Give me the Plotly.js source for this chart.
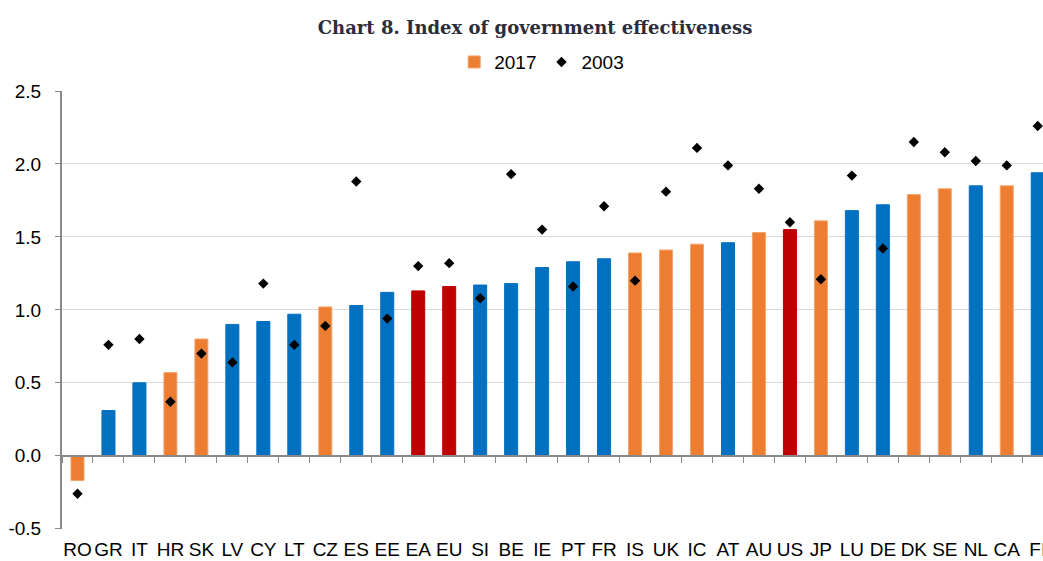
<!DOCTYPE html>
<html>
<head>
<meta charset="utf-8">
<script src="https://cdn.plot.ly/plotly-3.0.1.min.js"></script>
<style>html,body{margin:0;padding:0;background:#fff;}#chart{width:1043px;height:561px;}</style>
</head>
<body>
<div id="chart"></div>
<script>
// Data
const categories = ['RO','GR','IT','HR','SK','LV','CY','LT','CZ','ES','EE','EA','EU','SI','BE','IE','PT','FR','IS','UK','IC','AT','AU','US','JP','LU','DE','DK','SE','NL','CA','FI'];
const values2017 = [-0.17,0.31,0.50,0.57,0.80,0.90,0.92,0.97,1.02,1.03,1.12,1.13,1.16,1.17,1.18,1.29,1.33,1.35,1.39,1.41,1.45,1.46,1.53,1.55,1.61,1.68,1.72,1.79,1.83,1.85,1.85,1.94];
const values2003 = [-0.26,0.76,0.80,0.37,0.70,0.64,1.18,0.76,0.89,1.88,0.94,1.30,1.32,1.08,1.93,1.55,1.16,1.71,1.20,1.81,2.11,1.99,1.83,1.60,1.21,1.92,1.42,2.15,2.08,2.02,1.99,2.26];
// group of each economy: 'eu' member, 'other' economy, 'agg' aggregate
const groups = ['other','eu','eu','other','other','eu','eu','eu','other','eu','eu','agg','agg','eu','eu','eu','eu','eu','other','other','other','eu','other','agg','other','eu','eu','other','other','eu','other','eu'];
const yTicks = [-0.5,0,0.5,1,1.5,2,2.5];

const groupColor = {eu:'#0070C0', other:'#ED7D31', agg:'#C00000'};
const groupEdge = {eu:'#0070C0', other:'#F4A46E', agg:'#C00000'};

const axisGray = '#898989';
const font = 'Liberation Sans, Arial, sans-serif';

const traces = [
  {
    type:'bar', name:'2017', x:categories, y:values2017,
    width:0.42,
    marker:{color:groups.map(g=>groupColor[g]), line:{color:groups.map(g=>groupEdge[g]), width:1}},
    hoverinfo:'x+y'
  },
  {
    type:'scatter', mode:'markers', name:'2003', x:categories, y:values2003,
    marker:{symbol:'diamond', size:8, color:'#000000'},
    hoverinfo:'x+y'
  }
];

const layout = {
  width:1043, height:561,
  margin:{l:62, r:0, t:91, b:32, pad:0},
  paper_bgcolor:'#ffffff', plot_bgcolor:'#ffffff',
  font:{family:font, size:19, color:'#000000'},
  title:{
    text:'<b>Chart 8. Index of government effectiveness</b>',
    font:{family:'DejaVu Serif, Liberation Serif, serif', size:18, color:'#2b2d3a'},
    x:0.513, xref:'container', xanchor:'center',
    y:0.95, yref:'container', yanchor:'middle'
  },
  showlegend:true,
  legend:{
    orientation:'h', x:0.489, xanchor:'center', y:1.066, yanchor:'middle',
    font:{family:font, size:19, color:'#000'}, itemwidth:30, traceorder:'normal',
    bgcolor:'rgba(0,0,0,0)'
  },
  xaxis:{
    type:'category', categoryorder:'array', categoryarray:categories,
    range:[-0.5, 31.17], fixedrange:true,
    anchor:'free', position:0.5/3,
    showline:true, linecolor:axisGray, linewidth:2,
    ticks:'outside', tickson:'boundaries', ticklen:6, tickcolor:axisGray, tickwidth:1,
    tickangle:0, automargin:false,
    ticklabelstandoff:76,
    tickfont:{family:font, size:19, color:'#000'},
    showgrid:false, zeroline:false
  },
  yaxis:{
    range:[-0.502, 2.5], fixedrange:true,
    tickmode:'array', tickvals:yTicks, ticktext:yTicks.map(v=>v.toFixed(1)),
    showline:true, linecolor:axisGray, linewidth:2,
    ticks:'outside', ticklen:5, tickcolor:axisGray, tickwidth:1,
    ticklabelstandoff:10, automargin:false,
    tickfont:{family:font, size:19, color:'#000'},
    showgrid:true, gridcolor:'#D9D9D9', gridwidth:1,
    zeroline:false
  }
};

Plotly.newPlot('chart', traces, layout, {displayModeBar:false, staticPlot:true});
</script>
</body>
</html>
